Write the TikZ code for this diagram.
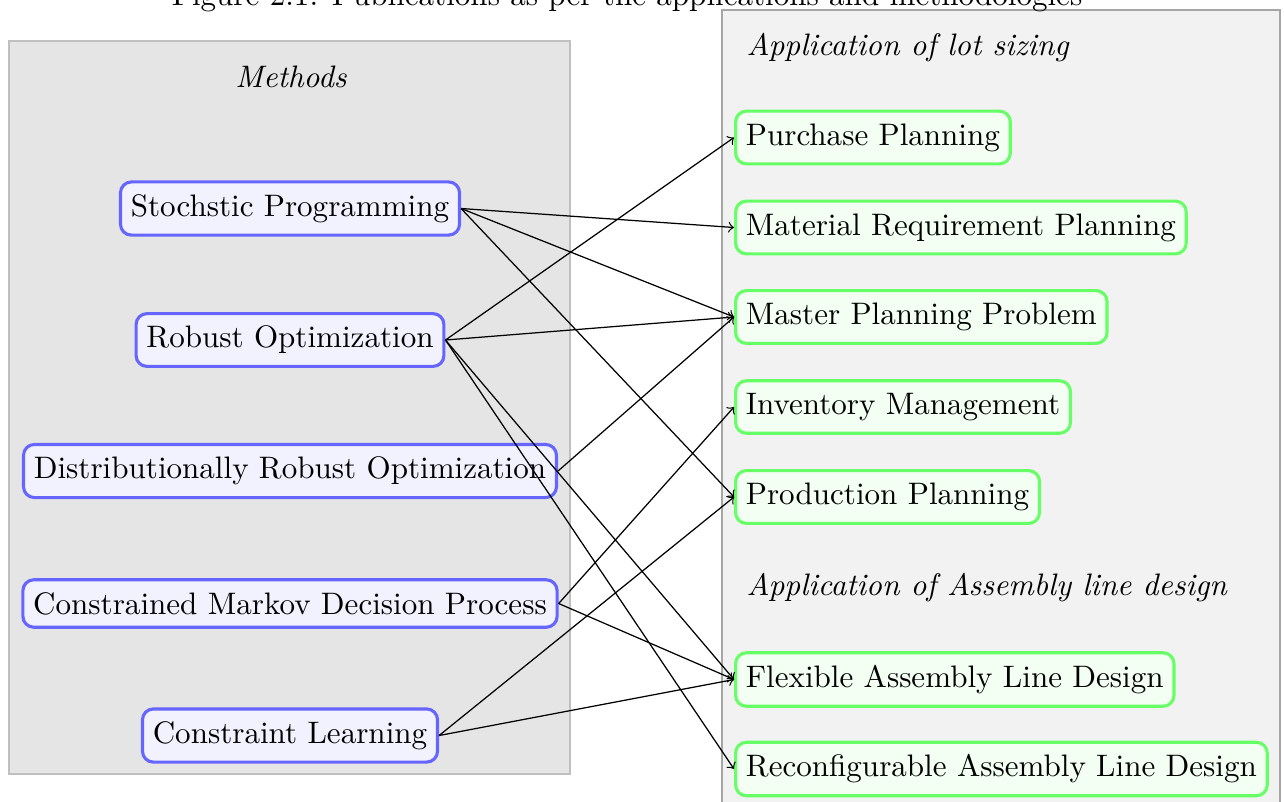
\documentclass[tikz,border=0pt]{standalone}
\begin{document}
\begin{tikzpicture}[x=0.3219pt,y=-0.3219pt,
  method/.style={draw=blue!60, fill=blue!5, line width=1pt, rounded corners=3.5pt, inner xsep=3.33pt, inner ysep=4pt},
  app/.style={draw=green!60, fill=green!5, line width=1pt, rounded corners=3.5pt, inner xsep=3.33pt, inner ysep=4pt, anchor=west},
  heading/.style={font=\itshape, inner sep=0pt},
  link/.style={->, black, line width=0.4pt}]
\useasboundingbox (0,0) rectangle (1284,801);
% panels
\filldraw[fill=gray!20, draw=gray!50, line width=0.6pt] (9,41) rectangle (570,774);
\filldraw[fill=gray!10, draw=gray!70, line width=0.6pt] (722,10) rectangle (1280,840);
% caption (cut by the page edge, as in the reference)
\node[anchor=base, inner sep=0pt] (cap) at (627,5.5) {Figure 2.1: Publications as per the applications and methodologies};
% headings
\node[heading, anchor=base] (hm) at (291,87) {Methods};
\node[heading, anchor=base west] (hl) at (746,55) {Application of lot sizing};
\node[heading, anchor=base west] (ha) at (746,595) {Application of Assembly line design};
% methods
\node[method] (sp) at (290,208.5) {Stochstic Programming};
\node[method] (ro) at (290,340) {Robust Optimization};
\node[method] (dro) at (290,471) {Distributionally Robust Optimization};
\node[method] (cmdp) at (290,603.5) {Constrained Markov Decision Process};
\node[method] (cl) at (290,735.5) {Constraint Learning};
% applications
\node[app] (pp) at (734,137.5) {Purchase Planning};
\node[app] (mrp) at (734,227.5) {Material Requirement Planning};
\node[app] (mpp) at (734,317) {Master Planning Problem};
\node[app] (im) at (734,407) {Inventory Management};
\node[app] (prp) at (734,497) {Production Planning};
\node[app] (fald) at (734,679.5) {Flexible Assembly Line Design};
\node[app] (rald) at (734,769) {Reconfigurable Assembly Line Design};
% links
\draw[link] (sp.east) -- (mrp.west);
\draw[link] (sp.east) -- (mpp.west);
\draw[link] (sp.east) -- (prp.west);
\draw[link] (ro.east) -- (pp.west);
\draw[link] (ro.east) -- (mpp.west);
\draw[link] (ro.east) -- (fald.west);
\draw[link] (ro.east) -- (rald.west);
\draw[link] (dro.east) -- (mpp.west);
\draw[link] (cmdp.east) -- (im.west);
\draw[link] (cmdp.east) -- (fald.west);
\draw[link] (cl.east) -- (prp.west);
\draw[link] (cl.east) -- (fald.west);
\end{tikzpicture}
\end{document}
